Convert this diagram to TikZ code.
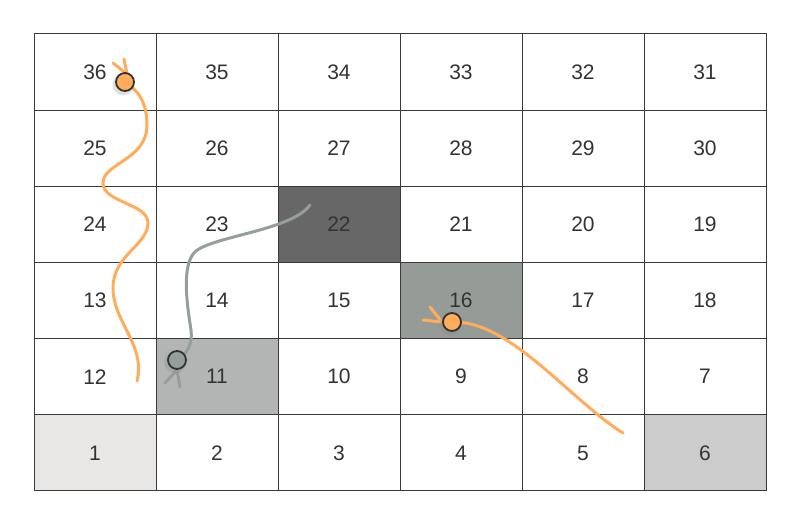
\documentclass[tikz,border=0pt]{standalone}
\usepackage{fontspec}
\setmainfont{Liberation Sans}
\usetikzlibrary{shadows}
\definecolor{gridline}{HTML}{3A3A3A}
\definecolor{numtext}{HTML}{333333}
\definecolor{sqone}{HTML}{E8E7E5}
\definecolor{sqsix}{HTML}{CCCCCC}
\definecolor{sqeleven}{HTML}{B3B5B4}
\definecolor{sqsixteen}{HTML}{959C98}
\definecolor{sqtwentytwo}{HTML}{666766}
\definecolor{ladderorange}{HTML}{FFAD5B}
\definecolor{snakegray}{HTML}{969E9A}

\tikzset{
cell/.style={draw=gridline, line width=0.5pt, minimum width=61pt, minimum height=38.08pt,
  inner sep=0pt, text=numtext, font=\fontsize{10.5}{12}\selectfont},
cell1/.style={fill=sqone},
cell6/.style={fill=sqsix},
cell11/.style={fill=sqeleven},
cell16/.style={fill=sqsixteen},
cell22/.style={fill=sqtwentytwo},
ladder/.style={draw=ladderorange, line width=1.5pt, line cap=round, line join=round},
snakebody/.style={draw=snakegray, line width=1.5pt, line cap=round, line join=round},
counter/.style={circle, draw=numtext, line width=0.9pt, minimum size=9pt, inner sep=0pt,
  circular drop shadow={shadow xshift=-0.8pt, shadow yshift=-0.8pt, shadow scale=1.3, fill=gray, opacity=0.25}}
}

\begin{document}
\begin{tikzpicture}[x=0.5pt,y=-0.5pt]
\useasboundingbox (0,0) rectangle (800,525);

% board
\foreach \r in {0,...,5}
\foreach \c in {0,...,5}{
\pgfmathtruncatemacro\n{mod(\r,2)==0 ? 6*\r+\c+1 : 6*\r+6-\c}
\node[cell, cell\n/.try] (c\n) at ({95+122*\c}, {452.9-76.17*\r}) {\n};
}

% ends
\coordinate (t36) at (125,82);
\coordinate (b12) at (137,381);
\coordinate (t22) at (310,205);
\coordinate (b11) at (177,360);
\coordinate (t16) at (452,322);
\coordinate (b5) at (623,433);

% ladder 12 -> 36
\draw[ladder] (b12) .. controls (146,345) and (113,322) .. (113,288)
  .. controls (113,255) and (148,245) .. (148,223)
  .. controls (148,203) and (103,203) .. (103,183)
  .. controls (103,163) and (147,160) .. (147,125)
  .. controls (147,100) and (136,89) .. (t36);
\draw[ladder] (113,63) -- (127,74) -- (124,59);

% snake 22 -> 11
\draw[snakebody] (t22) .. controls (292,230) and (215,236) .. (196,251)
  .. controls (180,264) and (188,310) .. (191,330)
  .. controls (193,345) and (186,355) .. (b11);
\draw[snakebody] (165,383) -- (177,370) -- (180,387);

% ladder 5 -> 16
\draw[ladder] (b5) .. controls (570,400) and (510,320) .. (t16);
\draw[ladder] (430,307) -- (442,322) -- (423,320);

% counters
\node[counter, fill=ladderorange] (k36) at (t36) {};
\node[counter, fill=snakegray] (k11) at (b11) {};
\node[counter, fill=ladderorange] (k16) at (t16) {};

\end{tikzpicture}
\end{document}
